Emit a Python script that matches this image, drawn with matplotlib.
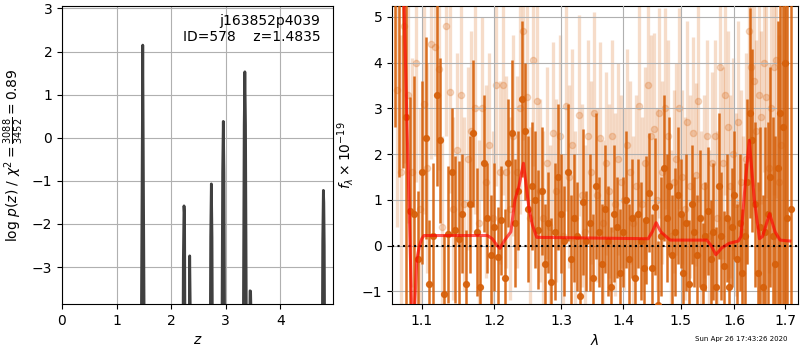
"""Redshift fit summary: log p(z) on the left, 1D spectrum + model on the right."""
import matplotlib

matplotlib.use("Agg")
import matplotlib.pyplot as plt
from matplotlib.ticker import FixedLocator, FixedFormatter, NullLocator

# --- p(z) ---------------------------------------------------------------
z_grid = [0.00, 1.430, 1.452, 1.468, 1.480, 1.492, 1.508, 1.530,
          2.190, 2.208, 2.224, 2.236, 2.246, 2.262, 2.280,
          2.305, 2.322, 2.334, 2.340, 2.350, 2.366, 2.385,
          2.690, 2.709, 2.725, 2.737, 2.749, 2.765, 2.785,
          2.910, 2.928, 2.944, 2.956, 2.968, 2.984, 3.005,
          3.305, 3.323, 3.339, 3.351, 3.363, 3.379, 3.400,
          3.415, 3.432, 3.442, 3.446, 3.456, 3.466, 3.485,
          4.745, 4.762, 4.778, 4.790, 4.798, 4.806, 4.822, 4.845, 5.00]
logpz = [-20.0, -20.0, -4.9, -1.0, 2.15, -1.0, -4.9, -20.0,
         -20.0, -7.6, -2.8, -1.58, -1.8, -7.6, -20.0,
         -20.0, -8.8, -3.9, -2.74, -3.9, -8.8, -20.0,
         -20.0, -7.1, -2.3, -1.07, -2.3, -7.1, -20.0,
         -20.0, -5.6, -0.8, 0.38, -0.8, -5.6, -20.0,
         -20.0, -4.5, 0.3, 1.53, 0.3, -4.5, -20.0,
         -20.0, -9.0, -4.2, -3.55, -3.56, -4.2, -20.0,
         -20.0, -7.2, -2.4, -1.22, -1.5, -2.5, -7.2, -20.0, -20.0]

# --- spectrum: dark (primary) beam --------------------------------------
wave_a = [1.065, 1.070, 1.075, 1.080, 1.085, 1.090, 1.095, 1.100, 1.105, 1.110,
          1.115, 1.120, 1.125, 1.130, 1.135, 1.140, 1.145, 1.150, 1.155, 1.160,
          1.165, 1.170, 1.175, 1.180, 1.185, 1.190, 1.195, 1.200, 1.205, 1.210,
          1.215, 1.220, 1.225, 1.230, 1.235, 1.240, 1.245, 1.250, 1.255, 1.260,
          1.265, 1.270, 1.275, 1.280, 1.285, 1.290, 1.295, 1.300, 1.305, 1.310,
          1.315, 1.320, 1.325, 1.330, 1.335, 1.340, 1.345, 1.350, 1.355, 1.360,
          1.365, 1.370, 1.375, 1.380, 1.385, 1.390, 1.395, 1.400, 1.405, 1.410,
          1.415, 1.420, 1.425, 1.430, 1.435, 1.440, 1.445, 1.450, 1.455, 1.460,
          1.465, 1.470, 1.475, 1.480, 1.485, 1.490, 1.495, 1.500, 1.505, 1.510,
          1.515, 1.520, 1.525, 1.530, 1.535, 1.540, 1.545, 1.550, 1.555, 1.560,
          1.565, 1.570, 1.575, 1.580, 1.585, 1.590, 1.595, 1.600, 1.605, 1.610,
          1.615, 1.620, 1.625, 1.630, 1.635, 1.640, 1.645, 1.650, 1.655, 1.660,
          1.665, 1.670, 1.675, 1.680, 1.685, 1.690, 1.695, 1.700, 1.705, 1.712]
flux_a = [6.0, 6.5, 5.8, 2.8, 0.75, 0.7, -0.3, 1.6, 2.35, -0.85,
          0.2, 3.3, 2.3, -1.05, 0.25, 1.6, 0.35, 0.15, 0.7, -0.85,
          0.9, 2.45, 0.3, -0.9, 1.8, 0.6, -0.2, 0.4, -0.25, 0.55,
          -0.7, 1.8, 2.45, 0.5, 1.2, 3.2, 2.5, 0.8, 1.3, 1.0,
          0.35, 1.2, -0.4, 0.5, -0.8, 0.3, 1.5, 0.7, 0.1, 1.6,
          -0.3, 0.6, 0.2, -1.1, 0.95, 0.1, 0.5, -0.7, 1.3, 0.3,
          -0.4, 0.8, 0.1, -0.9, 0.7, 0.4, -0.6, 0.3, 1.0, -0.3,
          0.6, -0.7, 0.7, 0.1, -0.5, 0.55, 1.15, -0.5, 0.85, -1.3,
          0.2, 1.7, 0.6, 1.3, -0.2, 0.3, 1.1, 0.7, -0.6, 0.5,
          -0.85, 0.9, 0.3, -0.2, 0.6, -0.9, 0.2, 0.75, -0.3, 0.3,
          -0.9, 1.3, 0.2, -0.45, 0.6, -0.9, 0.4, 1.1, -0.3, 0.5,
          -0.6, 0.2, 1.4, 2.9, 2.3, 0.9, -0.6, 0.4, -0.9, 0.3,
          0.7, 1.5, 0.2, -0.4, 1.7, 2.9, 2.6, 4.0, 0.6, 0.8]
err_a = [3.4, 5.0, 4.1, 5.0, 2.5, 3.0, 1.5, 2.0, 2.2, 1.4,
         1.6, 2.0, 1.8, 1.3, 1.5, 1.4, 1.6, 1.7, 1.3, 1.2,
         1.5, 1.6, 1.4, 1.1, 1.5, 1.2, 1.3, 1.4, 1.1, 1.2,
         1.5, 1.4, 1.6, 1.4, 1.3, 1.7, 1.5, 1.6, 1.4, 1.5,
         1.3, 1.4, 1.3, 1.1, 1.4, 1.5, 1.6, 1.3, 1.2, 1.5,
         1.4, 1.4, 1.2, 1.3, 1.6, 1.1, 1.5, 1.4, 1.6, 1.2,
         1.3, 1.4, 1.2, 1.3, 1.5, 1.1, 1.4, 1.2, 1.5, 1.2,
         1.3, 1.4, 1.2, 1.3, 1.1, 1.4, 1.3, 1.2, 1.5, 1.4,
         1.3, 1.6, 1.4, 1.5, 1.3, 1.4, 1.5, 1.2, 1.3, 1.5,
         1.4, 1.3, 1.2, 1.3, 1.5, 1.4, 1.2, 1.4, 1.3, 1.5,
         1.3, 1.6, 1.4, 1.2, 1.4, 1.5, 1.3, 1.4, 1.2, 1.5,
         1.4, 1.6, 1.8, 2.3, 2.0, 1.8, 2.0, 2.2, 2.0, 2.3,
         2.0, 2.4, 2.6, 2.8, 3.2, 4.5, 5.0, 6.0, 5.0, 6.0]

# --- spectrum: light (second) beam --------------------------------------
wave_b = [1.0675, 1.0725, 1.0775, 1.0825, 1.0875, 1.0925, 1.0975, 1.1025, 1.1075, 1.1125,
          1.1175, 1.1225, 1.1275, 1.1325, 1.1375, 1.1425, 1.1475, 1.1525, 1.1575, 1.1625,
          1.1675, 1.1725, 1.1775, 1.1825, 1.1875, 1.1925, 1.1975, 1.2025, 1.2075, 1.2125,
          1.2175, 1.2225, 1.2275, 1.2325, 1.2375, 1.2425, 1.2475, 1.2525, 1.2575, 1.2625,
          1.2675, 1.2725, 1.2775, 1.2825, 1.2875, 1.2925, 1.2975, 1.3025, 1.3075, 1.3125,
          1.3175, 1.3225, 1.3275, 1.3325, 1.3375, 1.3425, 1.3475, 1.3525, 1.3575, 1.3625,
          1.3675, 1.3725, 1.3775, 1.3825, 1.3875, 1.3925, 1.3975, 1.4025, 1.4075, 1.4125,
          1.4175, 1.4225, 1.4275, 1.4325, 1.4375, 1.4425, 1.4475, 1.4525, 1.4575, 1.4625,
          1.4675, 1.4725, 1.4775, 1.4825, 1.4875, 1.4925, 1.4975, 1.5025, 1.5075, 1.5125,
          1.5175, 1.5225, 1.5275, 1.5325, 1.5375, 1.5425, 1.5475, 1.5525, 1.5575, 1.5625,
          1.5675, 1.5725, 1.5775, 1.5825, 1.5875, 1.5925, 1.5975, 1.6025, 1.6075, 1.6125,
          1.6175, 1.6225, 1.6275, 1.6325, 1.6375, 1.6425, 1.6475, 1.6525, 1.6575, 1.6625,
          1.6675, 1.6725, 1.6775, 1.6825, 1.6875, 1.6925]
flux_b = [3.4, 1.6, 4.8, 3.3, 1.6, 4.0, 0.8, 3.1, 1.7, 4.4,
          4.35, 3.85, 0.4, 4.8, 3.35, 0.8, 2.1, 3.3, 0.9, 1.9,
          2.5, 3.0, 0.5, 3.0, 1.4, 2.2, 0.6, 3.5, 1.6, 3.5,
          1.6, 0.8, 2.4, 1.6, 3.0, 4.7, 3.25, 0.6, 4.05, 3.15,
          1.2, 0.6, 1.8, 0.4, 2.45, 1.2, 2.4, 0.2, 3.05, 1.5,
          2.2, 0.6, 2.85, 1.1, 0.3, 2.4, 1.6, 2.9, 1.1, 2.35,
          0.5, 1.8, 1.2, 2.4, 0.9, 1.9, 1.4, 1.0, 2.2, 1.6,
          0.5, 1.3, 3.05, 0.9, 1.8, 3.5, 2.4, 2.55, 1.0, 2.9,
          1.6, 3.0, 2.4, 0.2, 1.4, 1.9, 3.0, 1.5, 0.8, 2.7,
          1.3, 2.45, 1.55, 3.15, 0.6, 1.3, 2.4, 0.2, 1.8, 2.4,
          0.6, 3.9, 1.8, 3.3, 2.6, 1.3, 2.0, 0.9, 2.7, 1.4,
          0.3, 1.9, 4.7, 3.9, 3.6, 2.5, 3.3, 2.8, 4.0, 3.25,
          1.7, 3.0, 3.9, 4.05, 1.4, 2.2]
err_b = [3.0, 3.0, 3.0, 2.8, 2.5, 2.6, 2.2, 2.4, 2.3, 2.5,
         2.4, 2.2, 2.0, 2.4, 2.2, 2.0, 2.1, 2.3, 1.9, 2.0,
         2.2, 2.3, 1.8, 2.0, 2.1, 2.0, 1.9, 2.2, 2.0, 2.4,
         2.1, 2.0, 2.2, 2.1, 2.3, 2.4, 2.2, 2.0, 2.3, 2.1,
         2.0, 1.9, 2.1, 1.8, 2.0, 2.0, 2.2, 1.8, 2.3, 2.0,
         2.1, 1.9, 2.2, 2.0, 1.9, 2.1, 2.0, 2.2, 1.9, 2.1,
         1.8, 2.0, 1.9, 2.1, 2.0, 2.1, 1.9, 2.0, 2.1, 2.0,
         1.9, 2.0, 2.2, 1.9, 2.1, 2.3, 2.2, 2.1, 2.0, 2.3,
         2.0, 2.2, 2.1, 1.9, 2.0, 2.1, 2.2, 1.9, 2.0, 2.2,
         2.0, 2.1, 2.0, 2.2, 1.9, 2.0, 2.1, 1.9, 2.0, 2.1,
         1.9, 2.3, 2.1, 2.2, 2.1, 2.0, 2.1, 2.0, 2.2, 2.0,
         2.1, 2.3, 2.5, 2.4, 2.3, 2.0, 2.1, 1.9, 2.4, 2.2,
         2.3, 2.5, 2.8, 3.0, 3.2, 3.5]

# --- best-fit model -----------------------------------------------------
wave_model = [1.0720, 1.0769, 1.0805, 1.0869, 1.0900, 1.0935, 1.0970, 1.1000, 1.1030,
              1.1900, 1.1970, 1.2040, 1.2080, 1.2150, 1.2240, 1.2300, 1.2360, 1.2426,
              1.2510, 1.2560, 1.2626, 1.4430, 1.4500, 1.4568, 1.4650, 1.4814, 1.5480,
              1.5560, 1.5648, 1.5760, 1.5900, 1.6075, 1.6127, 1.6220, 1.6288, 1.6386,
              1.6487, 1.6550, 1.6688, 1.6800, 1.6900, 1.7097]
flux_model = [6.0, 5.3, 2.8, -1.4, -1.6, -0.3, 0.0, 0.15, 0.22,
              0.22, 0.15, 0.0, -0.06, 0.12, 0.3, 1.0, 1.3, 1.8,
              0.8, 0.45, 0.18, 0.15, 0.3, 0.5, 0.3, 0.12, 0.12,
              0.0, -0.2, -0.05, 0.05, 0.1, 0.2, 1.5, 2.3, 1.0,
              0.15, 0.2, 0.7, 0.3, 0.12, 0.1]

lam_ticks = [1.1, 1.2, 1.3, 1.4, 1.5, 1.6, 1.7]
lam_labels = ["1.1", "1.2", "1.3", "1.4", "1.5", "1.6", "1.7"]

spec_color = "#d6600a"

fig = plt.figure(figsize=(8, 3.5), dpi=100)

# left: p(z)
ax = fig.add_axes([0.0775, 0.131, 0.339, 0.851])
ax.fill_between(z_grid, logpz, -20, color="0.3", alpha=0.25, linewidth=0)
ax.plot(z_grid, logpz, color="0.25", linewidth=2)
ax.set_xlim(0, 4.97)
ax.set_ylim(-3.86, 3.05)
ax.set_yticks([-3, -2, -1, 0, 1, 2, 3])
ax.set_xticks([0, 1, 2, 3, 4])
ax.grid(True)
ax.set_axisbelow(True)
ax.set_xlabel(r"$z$")
ax.set_ylabel(r"$\log\,p(z)$ / $\chi^2=\frac{3088}{3452}=0.89$")
ax.text(0.952, 0.975, "j163852p4039\nID=578    z=1.4835", ha="right", va="top",
        transform=ax.transAxes, fontsize=10)

# right: spectrum
ax2 = fig.add_axes([0.49, 0.131, 0.5075, 0.851])
ax2.errorbar(wave_b, flux_b, yerr=err_b, fmt="o", color=spec_color, alpha=0.22,
             markersize=4.5, elinewidth=2.4, capsize=0, zorder=2)
ax2.errorbar(wave_a, flux_a, yerr=err_a, fmt="o", color=spec_color, alpha=0.9,
             markersize=4.2, elinewidth=1.8, capsize=0, zorder=3)
ax2.axhline(0, color="k", linestyle=":", linewidth=1.5, zorder=4)
ax2.plot(wave_model, flux_model, color="r", alpha=0.65, linewidth=2.2, zorder=5)
ax2.set_xscale("log")
ax2.xaxis.set_major_locator(FixedLocator(lam_ticks))
ax2.xaxis.set_major_formatter(FixedFormatter(lam_labels))
ax2.xaxis.set_minor_locator(NullLocator())
ax2.set_xlim(1.0615, 1.7267)
ax2.set_ylim(-1.28, 5.23)
ax2.set_yticks([-1, 0, 1, 2, 3, 4, 5])
ax2.grid(True)
ax2.set_axisbelow(False)
ax2.set_xlabel(r"$\lambda$")
ax2.set_ylabel(r"$f_\lambda\times10^{-19}$")

fig.text(0.927, 0.022, "Sun Apr 26 17:43:26 2020", ha="center", va="bottom", fontsize=5)

fig.savefig("out.png", dpi=100)
plt.close(fig)
